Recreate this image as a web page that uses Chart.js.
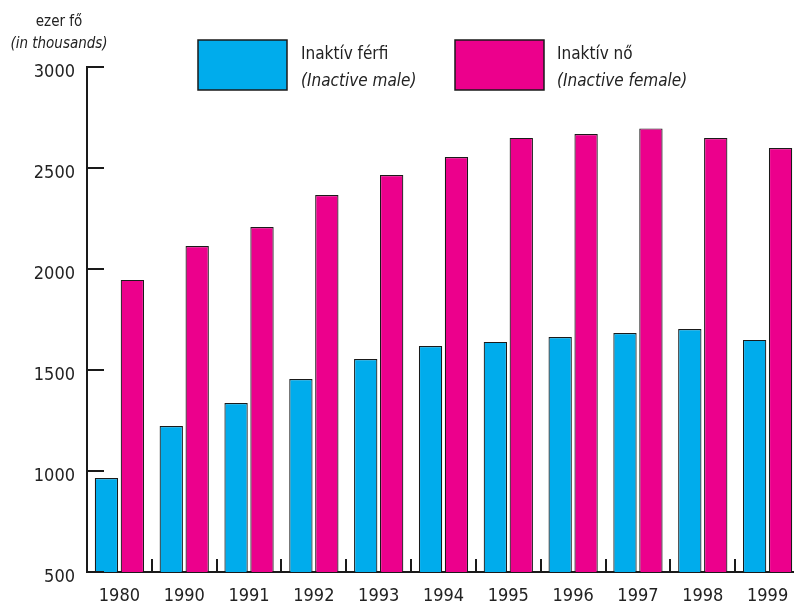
<!DOCTYPE html>
<html>
<head>
<meta charset="utf-8">
<script src="https://cdn.jsdelivr.net/npm/chart.js@4.4.1/dist/chart.umd.min.js"></script>
<style>
  html,body{margin:0;padding:0;background:#fff;overflow:hidden;}
  #wrap{width:800px;height:606px;position:relative;}
</style>
</head>
<body>
<div id="wrap"><canvas id="chart"></canvas></div>
<script>
const years = ["1980","1990","1991","1992","1993","1994","1995","1996","1997","1998","1999"];
const male   = [965, 1223, 1337, 1455, 1554, 1619, 1639, 1663, 1683, 1703, 1649];
const female = [1946, 2114, 2208, 2366, 2465, 2554, 2649, 2668, 2696, 2648, 2599];
const yTicks = [500, 1000, 1500, 2000, 2500, 3000];

const maleLabel = ["Inaktív férfi", "(Inactive male)"];
const femaleLabel = ["Inaktív nő", "(Inactive female)"];

const FONT = '"Liberation Sans Narrow", "DejaVu Sans Condensed", "Roboto", sans-serif';
const INK = "#1a1a1a";

/* 目盛・凡例 */
const decor = {
  id: "decor",
  afterDraw(chart){
    const c = chart.ctx, x = chart.scales.x, y = chart.scales.y, a = chart.chartArea;
    c.save();
    c.strokeStyle = INK;
    c.lineWidth = 2;
    // y ticks point into the plot
    yTicks.forEach(v=>{
      const py = Math.round(y.getPixelForValue(v));
      c.beginPath(); c.moveTo(a.left, py); c.lineTo(a.left+17, py); c.stroke();
    });
    // category boundary ticks on x
    for(let i=1;i<years.length;i++){
      const px = Math.round((x.getPixelForTick(i-1)+x.getPixelForTick(i))/2);
      c.beginPath(); c.moveTo(px, a.bottom); c.lineTo(px, a.bottom-13); c.stroke();
    }
    // unit label
    c.fillStyle = "#222";
    c.textAlign = "center";
    c.font = `15px ${FONT}`;
    c.fillText("ezer fő", 59, 26);
    c.font = `italic 15px ${FONT}`;
    c.fillText("(in thousands)", 59, 48);
    // legend
    const items = [
      {box:198, txt:301, label:maleLabel, ds:0},
      {box:455, txt:557, label:femaleLabel, ds:1},
    ];
    items.forEach(it=>{
      const ds = chart.data.datasets[it.ds];
      c.fillStyle = ds.backgroundColor;
      c.fillRect(it.box, 40, 89, 50);
      c.lineWidth = 1.5;
      c.strokeRect(it.box, 40, 89, 50);
      c.fillStyle = "#222";
      c.textAlign = "left";
      c.font = `17px ${FONT}`;
      c.fillText(it.label[0], it.txt, 59);
      c.font = `italic 17px ${FONT}`;
      c.fillText(it.label[1], it.txt, 86);
    });
    c.restore();
  }
};

new Chart(document.getElementById("chart"), {
  type: "bar",
  data: {
    labels: years,
    datasets: [
      {label: maleLabel.join(" "), data: male, backgroundColor: "#00acec", borderColor: INK, borderWidth: 1.2},
      {label: femaleLabel.join(" "), data: female, backgroundColor: "#ec008c", borderColor: INK, borderWidth: 1.2}
    ]
  },
  options: {
    responsive: true,
    maintainAspectRatio: false,
    animation: false,
    layout: {padding: {top: 67, right: 0, left: 0, bottom: 0}},
    plugins: {legend: {display: false}, tooltip: {enabled: false}},
    scales: {
      x: {
        grid: {display: false},
        border: {color: INK, width: 2},
        ticks: {color: "#222", font: {family: FONT, size: 18}, padding: 6, maxRotation: 0},
        afterFit: s=>{ s.height = 34; }
      },
      y: {
        min: 500, max: 3000,
        grid: {display: false},
        border: {color: INK, width: 2},
        afterBuildTicks: s=>{ s.ticks = yTicks.map(v=>({value:v})); },
        ticks: {color: "#222", font: {family: FONT, size: 18}, padding: 4, labelOffset: 5,
                callback: v=>String(v)},
        afterFit: s=>{ s.width = 87; }
      }
    }
  },
  plugins: [decor]
});
</script>
</body>
</html>
